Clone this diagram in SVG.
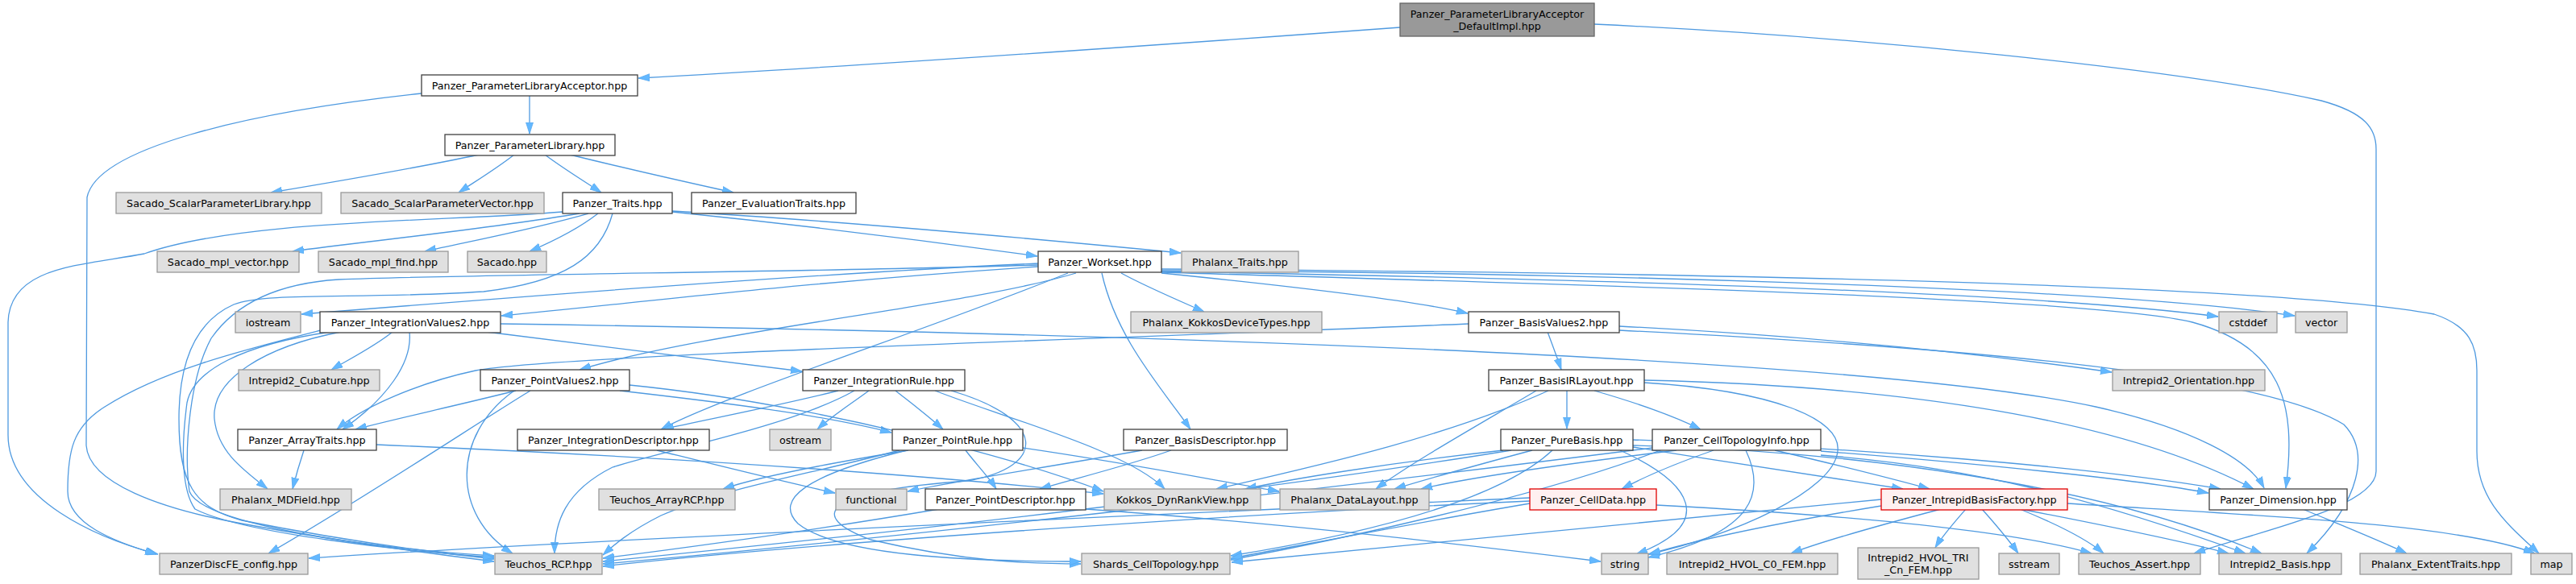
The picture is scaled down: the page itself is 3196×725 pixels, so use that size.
<svg xmlns="http://www.w3.org/2000/svg" width="3196" height="725" viewBox="0 0 3196 725">
<style>
.node rect{stroke-width:1.3}
.doc rect{fill:#ffffff;stroke:#404040}
.ext rect{fill:#e0e0e0;stroke:#999999}
.trunc rect{fill:#fff0f0;stroke:#e00000}
.root rect{fill:#999999;stroke:#666666}
.node text{font-family:"DejaVu Sans","Liberation Sans",sans-serif;font-size:12.7px;text-anchor:middle;fill:#000}
#edges path{fill:none;stroke:#4f9ae0;stroke-width:1.3;marker-end:url(#ah)}
</style>
<defs>
<marker id="ah" viewBox="0 0 14 10" markerWidth="14" markerHeight="10" refX="14" refY="5" orient="auto" markerUnits="userSpaceOnUse">
<path d="M0,0.5 L14,5 L0,9.5 z" fill="#63b8ff" stroke="#5aaaf0" stroke-width="0.8"/>
</marker>
</defs>
<rect width="3196" height="725" fill="#ffffff"/>
<g id="edges">
<path d="M1737,34 C1450,55 1100,80 792,97"/>
<path d="M1978,30 C2300,45 2700,85 2880,125 C2935,140 2948,160 2948,185 L2948,585 C2948,630 2800,660 2722,687"/>
<path d="M657,119 L657,166"/>
<path d="M523,116 C300,140 120,185 108,245 L107,553 C110,600 200,632 300,650 C420,672 540,688 613,697"/>
<path d="M594,192 C520,208 420,225 336,239"/>
<path d="M638,192 C615,210 590,225 569,239"/>
<path d="M676,192 C700,210 725,225 746,239"/>
<path d="M707,192 C780,210 860,228 910,239"/>
<path d="M719,265 C600,285 450,300 363,312"/>
<path d="M730,265 C660,285 580,300 527,312"/>
<path d="M742,265 C720,282 690,298 657,312"/>
<path d="M834,263 C1000,280 1180,303 1287,318"/>
<path d="M834,262 C1050,275 1300,298 1465,314"/>
<path d="M698,263 C560,275 300,272 179,315 C100,330 12,330 10,400 L10,540 C10,620 120,668 196,688"/>
<path d="M760,265 C745,320 700,350 600,362 C450,372 330,362 290,378 C245,398 222,445 222,520 C222,600 240,630 300,646 C420,670 540,686 613,694"/>
<path d="M1288,327 C1000,340 600,372 374,390"/>
<path d="M1288,331 C1000,350 800,375 622,392"/>
<path d="M1335,339 C1200,380 880,410 719,459"/>
<path d="M1325,339 C1150,410 900,490 820,533"/>
<path d="M1391,339 C1420,355 1460,372 1494,387"/>
<path d="M1367,339 C1385,420 1440,480 1477,533"/>
<path d="M1441,339 C1600,355 1750,372 1821,389"/>
<path d="M1441,337 C1900,345 2500,360 2752,393"/>
<path d="M1441,336 C1900,338 2600,355 2847,392"/>
<path d="M1441,334 C2000,338 2800,350 3020,390 C3065,405 3073,430 3073,460 L3073,560 C3073,620 3110,650 3150,687"/>
<path d="M1441,338 C2000,355 2600,370 2720,400 C2830,430 2850,500 2836,606"/>
<path d="M1288,329 C1000,338 600,340 420,347 C340,352 290,380 262,420 C235,470 228,560 235,610 C250,650 450,680 613,690"/>
<path d="M487,412 C465,430 435,445 411,459"/>
<path d="M508,412 C512,450 480,495 425,533"/>
<path d="M423,412 C330,430 262,470 266,520 C270,560 300,582 332,607"/>
<path d="M398,410 C300,435 200,460 130,505 C90,530 84,560 84,610 C84,650 140,672 194,688"/>
<path d="M410,412 C300,428 240,460 232,500 C224,560 226,610 242,632 C300,662 500,684 613,692"/>
<path d="M603,412 C750,430 900,448 995,461"/>
<path d="M621,402 C1300,412 2300,440 2600,505 C2720,532 2790,570 2809,606"/>
<path d="M640,485 C560,505 490,520 441,533"/>
<path d="M658,485 C600,520 450,620 333,687"/>
<path d="M638,485 C560,540 560,640 636,687"/>
<path d="M769,485 C900,500 1020,515 1106,537"/>
<path d="M781,478 C1000,500 1250,565 1369,610"/>
<path d="M377,559 C370,580 366,595 363,607"/>
<path d="M467,552 C900,570 1200,595 1369,613"/>
<path d="M1040,485 C960,505 880,520 822,533"/>
<path d="M1078,485 C1055,502 1030,518 1014,533"/>
<path d="M1111,485 C1130,500 1150,515 1170,533"/>
<path d="M1160,485 C1250,520 1400,560 1445,607"/>
<path d="M1180,485 C1300,520 1300,580 1200,597 C1020,610 1000,640 1080,670 C1200,698 1280,700 1341,700"/>
<path d="M1060,485 C980,530 820,560 760,580 C700,610 688,650 688,687"/>
<path d="M1198,559 C1210,575 1225,590 1236,607"/>
<path d="M1127,559 C1030,575 940,592 897,607"/>
<path d="M1125,559 C1000,590 960,620 990,650 C1040,690 1200,697 1341,697"/>
<path d="M1116,559 C1000,590 900,605 820,640 C780,660 760,678 748,689"/>
<path d="M1269,556 C1400,575 1500,595 1587,610"/>
<path d="M815,559 C900,580 980,600 1036,612"/>
<path d="M1453,559 C1400,578 1330,595 1290,607"/>
<path d="M1417,559 C1300,580 1180,598 1126,610"/>
<path d="M1165,632 C1000,660 850,680 748,693"/>
<path d="M1347,632 C1600,650 1850,680 1986,697"/>
<path d="M1920,412 C1926,428 1932,444 1937,459"/>
<path d="M1822,402 C1400,420 700,440 590,460 C520,475 450,505 418,533"/>
<path d="M2009,405 C2300,420 2500,445 2620,462"/>
<path d="M2009,410 C2400,430 2800,460 2908,527 C2940,560 2930,620 2862,687"/>
<path d="M1944,485 L1944,532"/>
<path d="M1978,485 C2030,500 2080,518 2110,533"/>
<path d="M1906,485 C1830,530 1750,575 1707,607"/>
<path d="M1921,485 C1800,540 1650,575 1509,607"/>
<path d="M2040,475 C2200,485 2285,520 2280,560 C2275,610 2150,665 2045,688"/>
<path d="M2040,472 C2400,480 2650,530 2796,607"/>
<path d="M1901,559 C1830,578 1770,595 1730,607"/>
<path d="M1865,559 C1720,575 1600,595 1545,607"/>
<path d="M2010,559 C2100,600 2130,650 2030,688"/>
<path d="M2026,555 C2150,575 2290,595 2361,607"/>
<path d="M2026,546 C2300,555 2600,580 2755,607"/>
<path d="M2026,553 C2300,560 2600,600 2806,687"/>
<path d="M1926,559 C1850,630 1650,670 1527,690"/>
<path d="M1875,559 C1500,620 1000,672 748,697"/>
<path d="M2126,559 C2080,575 2040,592 2012,607"/>
<path d="M2202,559 C2270,575 2350,595 2394,607"/>
<path d="M2166,559 C2190,610 2180,660 2045,692"/>
<path d="M2080,559 C1950,575 1820,593 1763,607"/>
<path d="M2060,559 C1900,620 1650,672 1527,695"/>
<path d="M2259,560 C2450,575 2650,595 2740,612"/>
<path d="M2259,565 C2450,580 2600,620 2786,687"/>
<path d="M2050,556 C1700,600 1100,670 748,700"/>
<path d="M2055,627 C2300,640 2500,660 2595,687"/>
<path d="M1898,625 C1750,650 1600,680 1527,693"/>
<path d="M1898,622 C1500,640 1000,675 748,703"/>
<path d="M1898,618 C1400,640 700,672 383,693"/>
<path d="M2334,628 C2200,650 2100,672 2046,688"/>
<path d="M2408,632 C2340,650 2260,672 2222,687"/>
<path d="M2439,632 C2425,648 2410,665 2401,680"/>
<path d="M2459,632 C2475,650 2492,670 2504,687"/>
<path d="M2506,632 C2550,650 2590,670 2610,687"/>
<path d="M2507,632 C2600,650 2700,670 2765,687"/>
<path d="M2565,625 C2800,640 3050,650 3145,687"/>
<path d="M2334,620 C2000,650 1700,680 1528,698"/>
<path d="M2857,632 C2900,650 2950,670 2986,687"/>
</g>
<g id="n0" class="node root"><rect x="1737" y="4" width="241" height="41"/><text x="1857.5" y="21.5">Panzer_ParameterLibraryAcceptor</text><text x="1857.5" y="36.5">_DefaultImpl.hpp</text></g>
<g id="n1" class="node doc"><rect x="523" y="93" width="268" height="26"/><text x="657" y="110.5">Panzer_ParameterLibraryAcceptor.hpp</text></g>
<g id="n2" class="node doc"><rect x="552" y="167" width="211" height="26"/><text x="657.5" y="184.5">Panzer_ParameterLibrary.hpp</text></g>
<g id="n3" class="node ext"><rect x="144" y="239" width="255" height="26"/><text x="271.5" y="256.5">Sacado_ScalarParameterLibrary.hpp</text></g>
<g id="n4" class="node ext"><rect x="423" y="239" width="252" height="26"/><text x="549" y="256.5">Sacado_ScalarParameterVector.hpp</text></g>
<g id="n5" class="node doc"><rect x="698" y="239" width="136" height="26"/><text x="766" y="256.5">Panzer_Traits.hpp</text></g>
<g id="n6" class="node doc"><rect x="858" y="239" width="204" height="26"/><text x="960" y="256.5">Panzer_EvaluationTraits.hpp</text></g>
<g id="n7" class="node ext"><rect x="195" y="312" width="176" height="26"/><text x="283" y="329.5">Sacado_mpl_vector.hpp</text></g>
<g id="n8" class="node ext"><rect x="395" y="312" width="161" height="26"/><text x="475.5" y="329.5">Sacado_mpl_find.hpp</text></g>
<g id="n9" class="node ext"><rect x="580" y="312" width="98" height="26"/><text x="629" y="329.5">Sacado.hpp</text></g>
<g id="n10" class="node doc"><rect x="1288" y="312" width="153" height="26"/><text x="1364.5" y="329.5">Panzer_Workset.hpp</text></g>
<g id="n11" class="node ext"><rect x="1466" y="312" width="145" height="26"/><text x="1538.5" y="329.5">Phalanx_Traits.hpp</text></g>
<g id="n12" class="node ext"><rect x="292" y="387" width="81" height="26"/><text x="332.5" y="404.5">iostream</text></g>
<g id="n13" class="node doc"><rect x="397" y="387" width="224" height="26"/><text x="509" y="404.5">Panzer_IntegrationValues2.hpp</text></g>
<g id="n14" class="node ext"><rect x="1403" y="387" width="237" height="26"/><text x="1521.5" y="404.5">Phalanx_KokkosDeviceTypes.hpp</text></g>
<g id="n15" class="node doc"><rect x="1822" y="387" width="187" height="26"/><text x="1915.5" y="404.5">Panzer_BasisValues2.hpp</text></g>
<g id="n16" class="node ext"><rect x="2753" y="387" width="72" height="26"/><text x="2789" y="404.5">cstddef</text></g>
<g id="n17" class="node ext"><rect x="2848" y="387" width="64" height="26"/><text x="2880" y="404.5">vector</text></g>
<g id="n18" class="node ext"><rect x="296" y="459" width="175" height="26"/><text x="383.5" y="476.5">Intrepid2_Cubature.hpp</text></g>
<g id="n19" class="node doc"><rect x="596" y="459" width="185" height="26"/><text x="688.5" y="476.5">Panzer_PointValues2.hpp</text></g>
<g id="n20" class="node doc"><rect x="996" y="459" width="201" height="26"/><text x="1096.5" y="476.5">Panzer_IntegrationRule.hpp</text></g>
<g id="n21" class="node doc"><rect x="1847" y="459" width="193" height="26"/><text x="1943.5" y="476.5">Panzer_BasisIRLayout.hpp</text></g>
<g id="n22" class="node ext"><rect x="2621" y="459" width="189" height="26"/><text x="2715.5" y="476.5">Intrepid2_Orientation.hpp</text></g>
<g id="n23" class="node doc"><rect x="295" y="533" width="172" height="26"/><text x="381" y="550.5">Panzer_ArrayTraits.hpp</text></g>
<g id="n24" class="node doc"><rect x="642" y="533" width="238" height="26"/><text x="761" y="550.5">Panzer_IntegrationDescriptor.hpp</text></g>
<g id="n25" class="node ext"><rect x="955" y="533" width="76" height="26"/><text x="993" y="550.5">ostream</text></g>
<g id="n26" class="node doc"><rect x="1107" y="533" width="162" height="26"/><text x="1188" y="550.5">Panzer_PointRule.hpp</text></g>
<g id="n27" class="node doc"><rect x="1394" y="533" width="203" height="26"/><text x="1495.5" y="550.5">Panzer_BasisDescriptor.hpp</text></g>
<g id="n28" class="node doc"><rect x="1862" y="533" width="164" height="26"/><text x="1944" y="550.5">Panzer_PureBasis.hpp</text></g>
<g id="n29" class="node doc"><rect x="2050" y="533" width="209" height="26"/><text x="2154.5" y="550.5">Panzer_CellTopologyInfo.hpp</text></g>
<g id="n30" class="node ext"><rect x="273" y="607" width="163" height="26"/><text x="354.5" y="624.5">Phalanx_MDField.hpp</text></g>
<g id="n31" class="node ext"><rect x="743" y="607" width="169" height="26"/><text x="827.5" y="624.5">Teuchos_ArrayRCP.hpp</text></g>
<g id="n32" class="node ext"><rect x="1037" y="607" width="88" height="26"/><text x="1081" y="624.5">functional</text></g>
<g id="n33" class="node doc"><rect x="1148" y="607" width="199" height="26"/><text x="1247.5" y="624.5">Panzer_PointDescriptor.hpp</text></g>
<g id="n34" class="node ext"><rect x="1370" y="607" width="194" height="26"/><text x="1467" y="624.5">Kokkos_DynRankView.hpp</text></g>
<g id="n35" class="node ext"><rect x="1588" y="607" width="185" height="26"/><text x="1680.5" y="624.5">Phalanx_DataLayout.hpp</text></g>
<g id="n36" class="node trunc"><rect x="1898" y="607" width="157" height="26"/><text x="1976.5" y="624.5">Panzer_CellData.hpp</text></g>
<g id="n37" class="node trunc"><rect x="2334" y="607" width="231" height="26"/><text x="2449.5" y="624.5">Panzer_IntrepidBasisFactory.hpp</text></g>
<g id="n38" class="node doc"><rect x="2741" y="607" width="171" height="26"/><text x="2826.5" y="624.5">Panzer_Dimension.hpp</text></g>
<g id="n39" class="node ext"><rect x="198" y="687" width="184" height="26"/><text x="290" y="704.5">PanzerDiscFE_config.hpp</text></g>
<g id="n40" class="node ext"><rect x="614" y="687" width="133" height="26"/><text x="680.5" y="704.5">Teuchos_RCP.hpp</text></g>
<g id="n41" class="node ext"><rect x="1342" y="687" width="184" height="26"/><text x="1434" y="704.5">Shards_CellTopology.hpp</text></g>
<g id="n42" class="node ext"><rect x="1987" y="687" width="58" height="26"/><text x="2016" y="704.5">string</text></g>
<g id="n43" class="node ext"><rect x="2068" y="687" width="212" height="26"/><text x="2174" y="704.5">Intrepid2_HVOL_C0_FEM.hpp</text></g>
<g id="n44" class="node ext"><rect x="2305" y="680" width="150" height="39"/><text x="2380" y="696.5">Intrepid2_HVOL_TRI</text><text x="2380" y="711.5">_Cn_FEM.hpp</text></g>
<g id="n45" class="node ext"><rect x="2480" y="687" width="75" height="26"/><text x="2517.5" y="704.5">sstream</text></g>
<g id="n46" class="node ext"><rect x="2579" y="687" width="151" height="26"/><text x="2654.5" y="704.5">Teuchos_Assert.hpp</text></g>
<g id="n47" class="node ext"><rect x="2753" y="687" width="152" height="26"/><text x="2829" y="704.5">Intrepid2_Basis.hpp</text></g>
<g id="n48" class="node ext"><rect x="2928" y="687" width="188" height="26"/><text x="3022" y="704.5">Phalanx_ExtentTraits.hpp</text></g>
<g id="n49" class="node ext"><rect x="3140" y="687" width="51" height="26"/><text x="3165.5" y="704.5">map</text></g>
</svg>
